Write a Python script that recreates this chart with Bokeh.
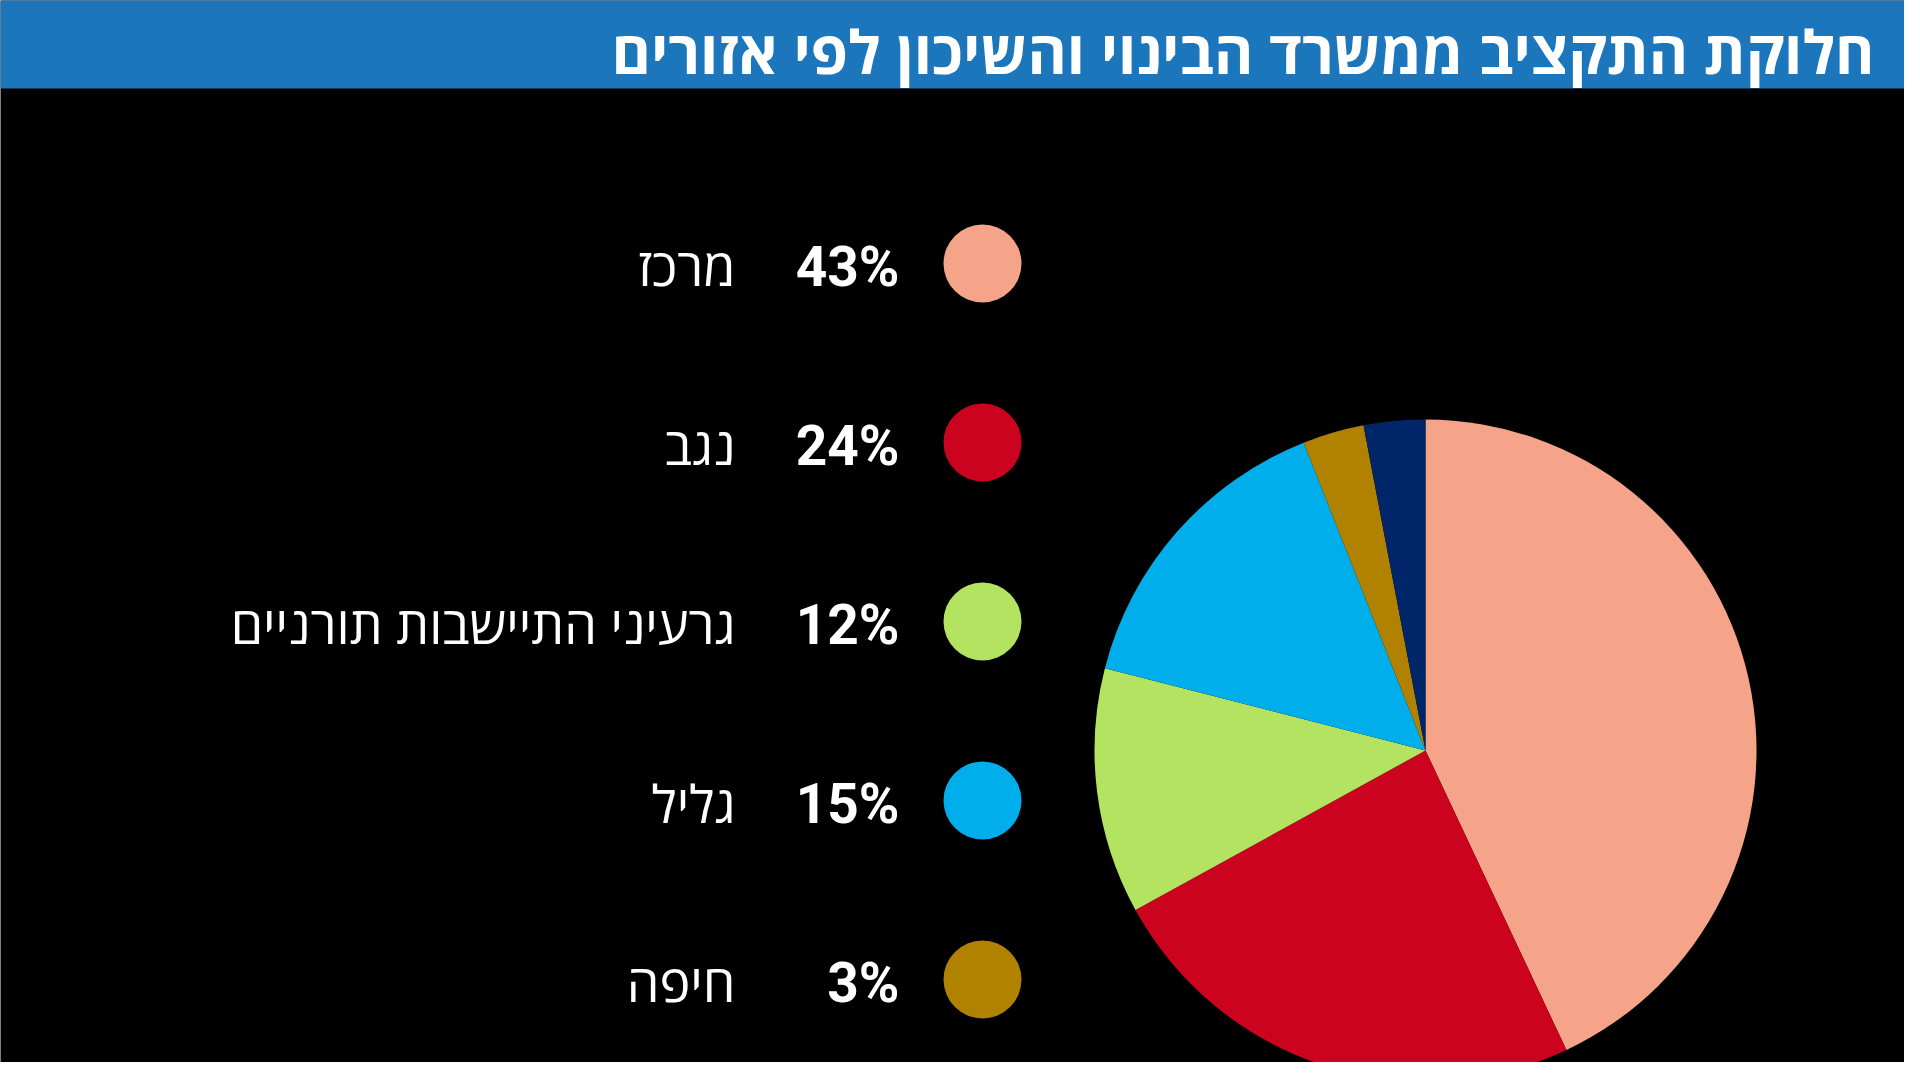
import numpy as np
from bokeh.plotting import figure
from bokeh.models import Range1d, ColumnDataSource
from bokeh.core.properties import value
from bokeh.embed import file_html
from bokeh.resources import INLINE

title = "חלוקת התקציב ממשרד הבינוי והשיכון לפי אזורים"

# slices, clockwise from 12 o'clock (last slice has no visible legend row)
shares = [43, 24, 12, 15, 3, 3]
colors = ["#f5a48a", "#cc031f", "#b3e360", "#00aeec", "#b08200", "#00266a"]

# legend rows that are visible
regions = ["מרכז", "נגב", "גרעיני התיישבות תורניים", "גליל", "חיפה"]
pct_labels = ["43%", "24%", "12%", "15%", "3%"]

W, H = 1904, 1062
p = figure(width=W, height=H, x_range=Range1d(0, W), y_range=Range1d(0, H),
           output_backend="svg", toolbar_location=None, min_border=0)
p.axis.visible = False
p.grid.visible = False
p.outline_line_color = None
p.background_fill_color = "black"
p.border_fill_color = "black"

# title bar
p.quad(left=0, right=W, bottom=H - 88, top=H + 10, fill_color="#1c76bb", line_color=None)
p.text(x=[1874], y=[H - 50], text=[title], text_align="right", text_baseline="alphabetic",
       text_color="white", text_font=value("Open Sans"), text_font_style="bold",
       text_font_size="60px")

# pie
cx, cy, r = 1425, H - 750, 331
fr = np.array(shares, dtype=float) / sum(shares)
ends = np.cumsum(fr)
starts = ends - fr
# clockwise from top
start_ang = np.pi / 2 - ends * 2 * np.pi
end_ang = np.pi / 2 - starts * 2 * np.pi
src = ColumnDataSource(dict(start=start_ang, end=end_ang, color=colors))
p.wedge(x=cx, y=cy, radius=r, start_angle="start", end_angle="end",
        fill_color="color", line_color=None, source=src)

# legend rows
row_y = (H - 263) - 179 * np.arange(len(regions))
p.circle(x=[982] * len(regions), y=row_y, radius=39, fill_color=colors[:len(regions)],
         line_color=None)
p.text(x=[899] * len(regions), y=row_y - 3, text=pct_labels, text_align="right",
       text_baseline="alphabetic", text_color="white", text_font=value("Roboto"),
       text_font_style="bold", text_font_size="55px")
p.text(x=[735] * len(regions), y=row_y - 2, text=regions, text_align="right",
       text_baseline="alphabetic", text_color="white", text_font=value("Open Sans"),
       text_font_size="52px")

open("out.html", "w").write(file_html(p, INLINE))
